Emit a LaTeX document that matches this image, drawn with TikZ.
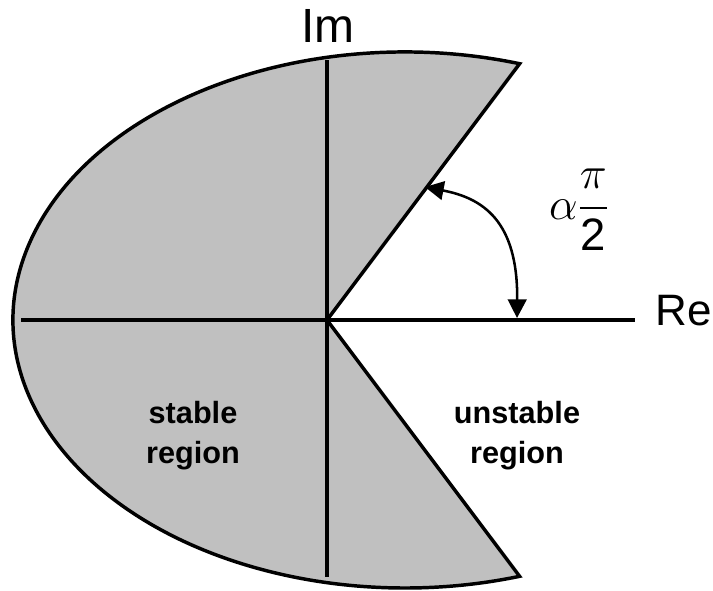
\documentclass[tikz,border=0pt]{standalone}
\usepackage{amsmath}
\usepackage{graphicx}
\usepackage{fontspec}
\setmainfont{Liberation Sans}
\usepackage{tikz}
\usetikzlibrary{arrows.meta}
\definecolor{regiongray}{HTML}{C0C0C0}

\begin{document}
\begin{tikzpicture}[x=0.75pt,y=-0.75pt,>={Triangle[length=14pt,width=14pt]},
  axis/.style={line width=2.6pt},
  bound/.style={line width=2.6pt,line join=miter},
  lbl/.style={font=\fontsize{23}{30}\selectfont\bfseries,align=center}]
\useasboundingbox (0,0) rectangle (713,590);
\coordinate (o) at (327,320);
\coordinate (c) at (405,320);
% stable region
\filldraw[bound,fill=regiongray] (c) ++(-73:392 and 268)
  arc[start angle=-73,end angle=-287,x radius=392,y radius=268] -- (o) -- cycle;
% axes
\coordinate (reL) at (21,320); \coordinate (reR) at (635,320);
\coordinate (imT) at (327,60); \coordinate (imB) at (327,577);
\draw[axis] (reL) -- (reR);
\draw[axis] (imT) -- (imB);
\node[font=\fontsize{36}{36}\selectfont] (im) at (328,26) {Im};
\node[font=\fontsize{33}{33}\selectfont] (re) at (684,311) {Re};
% angle
\coordinate (a1) at (425,187); \coordinate (a2) at (517,318);
\draw[<->,line width=1.9pt] (a1) .. controls (482,198) and (518,220) .. (a2);
\node (ang) at (579,210) {\scalebox{1.37}{\fontsize{24.88}{25}\selectfont$\displaystyle\alpha\frac{\pi}{\mbox{2}}$}};
\node[lbl] (st) at (193,436) {stable\\region};
\node[lbl] (un) at (517,436) {unstable\\region};
\end{tikzpicture}
\end{document}
